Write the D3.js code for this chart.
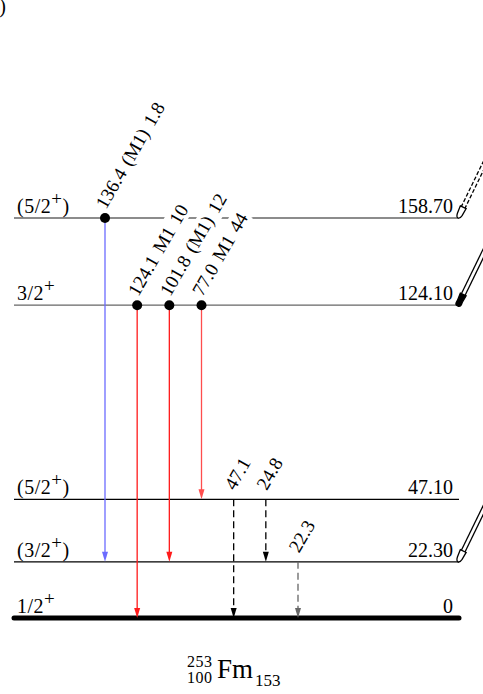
<!DOCTYPE html>
<html><head><meta charset="utf-8">
<script src="https://cdn.jsdelivr.net/npm/d3@7"></script>
<style>html,body{margin:0;padding:0;background:#fff;}svg{display:block;}
svg text{font-family:"Liberation Serif","Times New Roman",Times,"DejaVu Serif",serif;}</style>
</head><body>
<svg id="c" width="483" height="694"></svg>
<script>
// ---- data ----
const levelEnergies = [0, 22.30, 47.10, 124.10, 158.70];
const levelEnergyLabels = ["0", "22.30", "47.10", "124.10", "158.70"];
const levelSpins = ["1/2+", "(3/2+)", "(5/2+)", "3/2+", "(5/2+)"];

const gammaFrom = [158.70, 124.10, 124.10, 124.10, 47.10, 47.10, 22.30];
const gammaTo = [22.30, 0, 22.30, 47.10, 0, 22.30, 0];
const gammaEnergy = ["136.4", "124.1", "101.8", "77.0", "47.1", "24.8", "22.3"];
const gammaMult = ["(M1)", "M1", "(M1)", "M1", "", "", ""];
const gammaIntensity = ["1.8", "10", "12", "44", "", "", ""];

const feedLevels = [158.70, 124.10, 22.30];
const feedKinds = ["dashed", "filled", "open"];

const nucleus = {A: "253", Z: "100", sym: "Fm", N: "153"};

// ---- styles ----
const gammaColors = ["#6b6bff", "#ff1a1a", "#ff1a1a", "#ff4d4d", "#000", "#000", "#666"];
const levelColor = e => e > 100 ? "#666" : "#000";

const svg = d3.select("#c");
const y = d3.scaleLinear().domain([0, 158.70]).range([618, 218]);
const x = d3.scalePoint().domain(d3.range(gammaEnergy.length)).range([105, 298]);
const x0 = 14, x1 = 459;

// levels
const lv = svg.append("g");
levelEnergies.forEach((e, i) => {
  lv.append("line").attr("x1", x0).attr("x2", x1).attr("y1", y(e)).attr("y2", y(e))
    .attr("stroke", levelColor(e)).attr("stroke-width", e === 0 ? 5 : 1.3)
    .attr("stroke-linecap", e === 0 ? "round" : "butt");
  const t = lv.append("text").attr("x", 17).attr("y", y(e) - 5)
    .attr("font-size", 20).attr("letter-spacing", 0.5).attr("fill", "#000");
  const m = levelSpins[i].match(/^(.*?)([+-])(\)?)$/);
  t.append("tspan").text(m[1]);
  t.append("tspan").attr("dy", -8).attr("font-size", 19).text(m[2]);
  if (m[3]) t.append("tspan").attr("dy", 8).text(m[3]);
  lv.append("text").attr("x", 453).attr("y", y(e) - 5).attr("text-anchor", "end")
    .attr("font-size", 20).text(levelEnergyLabels[i]);
});

// transitions
const gg = svg.append("g");
const labels = svg.append("g");
gammaEnergy.forEach((g, i) => {
  const xi = x(i), ya = y(gammaFrom[i]), yb = y(gammaTo[i]);
  const dashed = gammaIntensity[i] === "";
  const col = gammaColors[i];
  const ah = 10, aw = 3;
  gg.append("line").attr("x1", xi).attr("x2", xi).attr("y1", ya).attr("y2", yb - ah + 1)
    .attr("stroke", col).attr("stroke-width", 1.3)
    .attr("stroke-dasharray", dashed ? "7,4" : null);
  gg.append("path").attr("d", `M${xi - aw},${yb - ah}L${xi + aw},${yb - ah}L${xi},${yb}Z`)
    .attr("fill", col);
  if (!dashed) gg.append("circle").attr("cx", xi).attr("cy", ya).attr("r", 5).attr("fill", "#000");
  const txt = [g, gammaMult[i], gammaIntensity[i]].filter(s => s).join(" ");
  const lg = labels.append("g").attr("transform", `translate(${xi + 1},${ya - 8}) rotate(-60)`);
  const bg = lg.append("rect").attr("fill", "#fff");
  const tt = lg.append("text").attr("font-size", 19).attr("word-spacing", 2).text(txt);
  const bb = tt.node().getBBox();
  bg.attr("x", bb.x - 1).attr("y", bb.y).attr("width", bb.width + 2).attr("height", bb.height);
});

// feeding arrows
feedLevels.forEach((e, i) => {
  const kind = feedKinds[i];
  const g = svg.append("g").attr("transform", `translate(${x1 - 1},${y(e)}) rotate(-64)`);
  const dash = kind === "dashed" ? "4,2" : null;
  [-2, 2].forEach(v => g.append("line").attr("x1", 11).attr("x2", 90).attr("y1", v).attr("y2", v)
    .attr("stroke", "#000").attr("stroke-width", 1.3).attr("stroke-dasharray", dash));
  g.append("path").attr("d", "M12,-3.2L4,-2.6Q0,-2 0,0Q0,2 4,2.6L12,3.2Z")
    .attr("fill", kind === "filled" ? "#000" : "#fff").attr("stroke", "#000").attr("stroke-width", 1.3);
  if (kind === "filled") g.append("circle").attr("cx", 2).attr("cy", 0).attr("r", 3.5).attr("fill", "#000");
});

// panel tag cut off at the left edge (as in reference)
svg.append("text").attr("x", 6).attr("y", 13).attr("text-anchor", "end")
  .attr("font-size", 20).text("(a)");

// nucleus title
const tg = svg.append("g").attr("fill", "#000");
tg.append("text").attr("x", 187).attr("y", 667).attr("font-size", 16).attr("letter-spacing", 0.5).text(nucleus.A);
tg.append("text").attr("x", 187).attr("y", 683).attr("font-size", 16).attr("letter-spacing", 0.5).text(nucleus.Z);
tg.append("text").attr("x", 217).attr("y", 678).attr("font-size", 27).text(nucleus.sym);
tg.append("text").attr("x", 255).attr("y", 686).attr("font-size", 17).text(nucleus.N);
</script>
</body></html>
